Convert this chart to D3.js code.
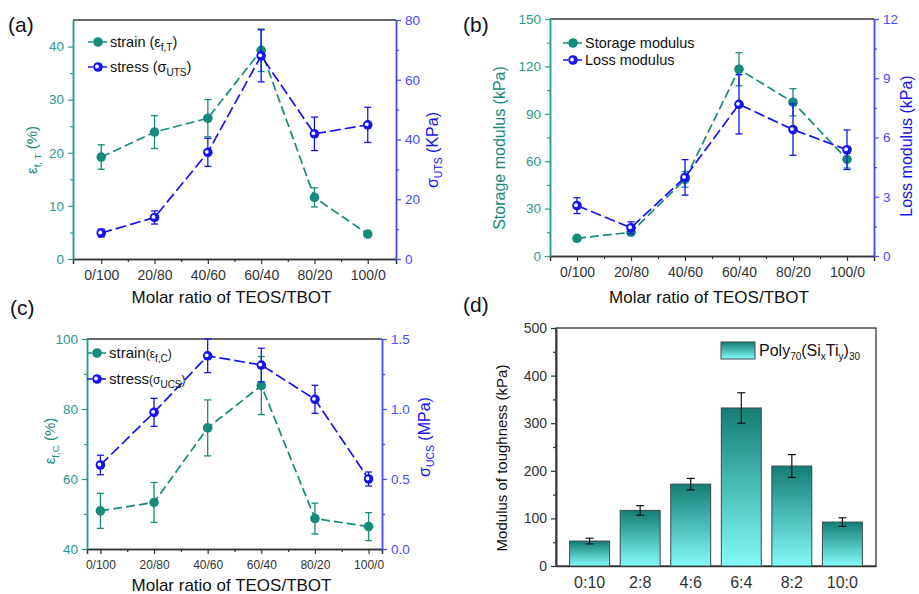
<!DOCTYPE html>
<html>
<head>
<meta charset="utf-8">
<script src="https://cdn.jsdelivr.net/npm/d3@7"></script>
<style>
  body { margin: 0; background: #fff; }
  text { font-family: "Liberation Sans", Arial, sans-serif; }
</style>
</head>
<body>
<div id="chart"></div>
<script>
// data
var ratios = ["0/100", "20/80", "40/60", "60/40", "80/20", "100/0"];

// (a) tensile
var strainT = [19.2, 23.9, 26.5, 39.3, 11.6, 4.7];
var strainTErr = [2.3, 3.1, 3.5, 4.0, 1.8, 0.5];
var stressUTS = [8.7, 13.9, 35.7, 68.0, 41.9, 44.9];
var stressUTSErr = [1.3, 2.2, 4.7, 8.7, 5.6, 5.9];

// (b) rheology
var storageMod = [11.2, 15.0, 48.5, 118.2, 97.3, 61.2];
var storageErr = [1.0, 1.5, 5.0, 10.5, 8.6, 5.5];
var lossMod = [2.55, 1.43, 3.98, 7.68, 6.4, 5.38];
var lossErr = [0.4, 0.3, 0.9, 1.5, 1.3, 1.0];

// (c) compression
var strainC = [50.9, 53.3, 74.6, 86.7, 48.7, 46.4];
var strainCErr = [5.0, 5.7, 8.0, 8.3, 4.4, 4.0];
var stressUCS = [0.60, 0.976, 1.38, 1.314, 1.069, 0.50];
var stressUCSErr = [0.07, 0.10, 0.12, 0.12, 0.10, 0.05];

// (d) toughness
var ratiosD = ["0:10", "2:8", "4:6", "6:4", "8:2", "10:0"];
var toughness = [52.4, 116.8, 172, 332, 210, 92.3];
var toughnessErr = [6, 10, 12, 32, 24, 9];

var teal = "#168a7b", tealAxis = "#2a9a8c";
var blue = "#1414f0", blueAxis = "#4a4aff";
var dark = "#333";

var svg = d3.select("#chart").append("svg")
    .attr("width", 919).attr("height", 594);

var defs = svg.append("defs");
var grad = defs.append("linearGradient").attr("id", "barGrad")
    .attr("x1", 0).attr("y1", 0).attr("x2", 0).attr("y2", 1);
grad.append("stop").attr("offset", "0%").attr("stop-color", "#147d74");
grad.append("stop").attr("offset", "100%").attr("stop-color", "#82fbfb");

function styleAxis(g, color, size) {
  g.select(".domain").attr("stroke", color).attr("stroke-width", 1.5);
  g.selectAll(".tick line").attr("stroke", color).attr("stroke-width", 1.2);
  g.selectAll(".tick text").attr("fill", color).style("font-size", size + "px")
    .style("font-family", "'Liberation Sans', Arial, sans-serif");
}

function marker(g, x, y, kind) {
  if (kind == "teal") {
    g.append("circle").attr("cx", x).attr("cy", y).attr("r", 4.8).attr("fill", teal);
  } else {
    g.append("circle").attr("cx", x).attr("cy", y).attr("r", 4.8).attr("fill", blue);
    g.append("circle").attr("cx", x - 1).attr("cy", y - 0.5).attr("r", 1.9).attr("fill", "#fff");
  }
}

function series(g, x, y, vals, errs, color, kind, dash) {
  var line = d3.line().x(function(d, i){ return x(i); }).y(function(d){ return y(d); });
  g.append("path").datum(vals)
    .attr("d", line).attr("fill", "none")
    .attr("stroke", color).attr("stroke-width", 1.7)
    .attr("stroke-dasharray", dash);
  vals.forEach(function(v, i){
    var top = y(v + errs[i]), bot = y(v - errs[i]), cx = x(i);
    g.append("line").attr("x1", cx).attr("x2", cx).attr("y1", top).attr("y2", bot)
      .attr("stroke", color).attr("stroke-width", 1.3);
    [top, bot].forEach(function(yy){
      g.append("line").attr("x1", cx - 3.5).attr("x2", cx + 3.5).attr("y1", yy).attr("y2", yy)
        .attr("stroke", color).attr("stroke-width", 1.3);
    });
  });
  vals.forEach(function(v, i){ marker(g, x(i), y(v), kind); });
}

function legendRow(g, x, y, kind, color, dash, parts) {
  g.append("line").attr("x1", x - 10).attr("x2", x + 10).attr("y1", y).attr("y2", y)
    .attr("stroke", color).attr("stroke-width", 1.7).attr("stroke-dasharray", dash);
  marker(g, x, y, kind);
  var t = g.append("text").attr("x", x + 12).attr("y", y + 5).attr("fill", "#111")
    .style("font-size", "14.5px");
  parts.forEach(function(p){
    var s = t.append("tspan").text(p.t);
    if (p.sub) s.attr("dy", 4).style("font-size", "10px");
    if (p.back) s.attr("dy", -4);
    if (p.size) s.style("font-size", p.size + "px");
  });
}

function yTitle(x, y, color, parts, size) {
  var t = svg.append("text").attr("transform", "translate(" + x + "," + y + ") rotate(-90)")
    .attr("text-anchor", "middle").attr("fill", color).style("font-size", size + "px");
  parts.forEach(function(p){
    var s = t.append("tspan").text(p.t);
    if (p.sub) s.attr("dy", 4).style("font-size", (size * 0.65) + "px");
    if (p.back) s.attr("dy", -4);
  });
}

function dualPanel(c) {
  var g = svg.append("g");
  var x = d3.scaleLinear().domain([-c.pad, ratios.length - 1 + c.pad]).range([c.x0, c.x1]);
  var yL = d3.scaleLinear().domain(c.left).range([c.y1, c.y0]);
  var yR = d3.scaleLinear().domain(c.right).range([c.y1, c.y0]);

  // frame top
  g.append("line").attr("x1", c.x0).attr("x2", c.x1).attr("y1", c.y0).attr("y2", c.y0)
    .attr("stroke", dark).attr("stroke-width", 1.5);

  var xa = g.append("g").attr("transform", "translate(0," + c.y1 + ")")
    .call(d3.axisBottom(x).tickValues(d3.range(ratios.length))
      .tickFormat(function(i){ return ratios[i]; }).tickSizeOuter(0).tickSize(5).tickPadding(6));
  styleAxis(xa, dark, c.xfont);
  var xm = g.append("g").attr("transform", "translate(0," + c.y1 + ")")
    .call(d3.axisBottom(x).tickValues(d3.range(ratios.length - 1).map(function(i){ return i + 0.5; }))
      .tickFormat("").tickSize(3).tickSizeOuter(0));
  styleAxis(xm, dark, c.xfont);

  var la = g.append("g").attr("transform", "translate(" + c.x0 + ",0)")
    .call(d3.axisLeft(yL).tickValues(c.leftTicks).tickSize(5).tickSizeOuter(0).tickPadding(4)
      .tickFormat(c.leftFmt || null));
  styleAxis(la, tealAxis, 13.5);
  var lm = g.append("g").attr("transform", "translate(" + c.x0 + ",0)")
    .call(d3.axisLeft(yL).tickValues(c.leftMinor).tickSize(3).tickSizeOuter(0).tickFormat(""));
  styleAxis(lm, tealAxis, 13);

  var ra = g.append("g").attr("transform", "translate(" + c.x1 + ",0)")
    .call(d3.axisRight(yR).tickValues(c.rightTicks).tickSize(5).tickSizeOuter(0).tickPadding(4)
      .tickFormat(c.rightFmt || null));
  styleAxis(ra, blueAxis, 13.5);
  var rm = g.append("g").attr("transform", "translate(" + c.x1 + ",0)")
    .call(d3.axisRight(yR).tickValues(c.rightMinor).tickSize(3).tickSizeOuter(0).tickFormat(""));
  styleAxis(rm, blueAxis, 13);

  var plot = g.append("g");
  series(plot, x, yL, c.lv, c.le, teal, "teal", "9,4");
  series(plot, x, yR, c.rv, c.re, blue, "blue", "11,4");

  g.append("text").attr("x", (c.x0 + c.x1) / 2 - 3).attr("y", c.xTitleY)
    .attr("text-anchor", "middle").attr("fill", "#111").style("font-size", "17px")
    .text("Molar ratio of TEOS/TBOT");
  return g;
}

// (a)
var ga = dualPanel({
  x0: 73, x1: 396, y0: 20, y1: 259, pad: 0.53,
  left: [0, 45], leftTicks: [0, 10, 20, 30, 40], leftMinor: [5, 15, 25, 35],
  right: [0, 80], rightTicks: [0, 20, 40, 60, 80], rightMinor: [10, 30, 50, 70],
  lv: strainT, le: strainTErr, rv: stressUTS, re: stressUTSErr,
  xfont: 14, xTitleY: 303
});
legendRow(ga, 98, 42, "teal", teal, "5,2", [{t: "strain (ε"}, {t: "f,T", sub: true}, {t: ")", back: true}]);
legendRow(ga, 98, 67, "blue", blue, "5,2", [{t: "stress (σ"}, {t: "UTS", sub: true}, {t: ")", back: true}]);
yTitle(37, 150, teal, [{t: "ε"}, {t: "f, T", sub: true}, {t: " (%)", back: true}], 15);
yTitle(438, 150, blue, [{t: "σ"}, {t: "UTS", sub: true}, {t: " (KPa)", back: true}], 16);

// (b)
var gb = dualPanel({
  x0: 550, x1: 874, y0: 19, y1: 256, pad: 0.5,
  left: [0, 150], leftTicks: [0, 30, 60, 90, 120, 150], leftMinor: [15, 45, 75, 105, 135],
  right: [0, 12], rightTicks: [0, 3, 6, 9, 12], rightMinor: [1.5, 4.5, 7.5, 10.5],
  lv: storageMod, le: storageErr, rv: lossMod, re: lossErr,
  xfont: 14, xTitleY: 303
});
legendRow(gb, 573, 43, "teal", teal, "5,2", [{t: "Storage modulus"}]);
legendRow(gb, 573, 60, "blue", blue, "5,2", [{t: "Loss modulus"}]);
yTitle(505, 148, teal, [{t: "Storage modulus (kPa)"}], 16);
yTitle(912, 146, blue, [{t: "Loss modulus (kPa)"}], 16);

// (c)
var gc = dualPanel({
  x0: 87, x1: 382, y0: 339, y1: 549, pad: 0.25,
  left: [40, 100], leftTicks: [40, 60, 80, 100], leftMinor: [50, 70, 90],
  right: [0, 1.5], rightTicks: [0, 0.5, 1.0, 1.5], rightMinor: [0.25, 0.75, 1.25],
  rightFmt: d3.format(".1f"),
  lv: strainC, le: strainCErr, rv: stressUCS, re: stressUCSErr,
  xfont: 12, xTitleY: 591
});
legendRow(gc, 97, 353, "teal", teal, "5,2", [{t: "strain", size: 15}, {t: "(ε", size: 12}, {t: "f,C", sub: true}, {t: ")", back: true, size: 12}]);
legendRow(gc, 97, 379, "blue", blue, "5,2", [{t: " stress", size: 15}, {t: "(σ", size: 12}, {t: "UCS", sub: true}, {t: ")", back: true, size: 12}]);
yTitle(55, 441, teal, [{t: "ε"}, {t: "f,C", sub: true}, {t: " (%)", back: true}], 15);
yTitle(430, 437, blue, [{t: "σ"}, {t: "UCS", sub: true}, {t: " (MPa)", back: true}], 16);

// (d)
var gd = svg.append("g");
var xd = d3.scaleBand().domain(ratiosD).range([556, 876]).paddingInner(0.21).paddingOuter(0.27);
var yd = d3.scaleLinear().domain([0, 500]).range([566, 328]);
gd.append("rect").attr("x", 556).attr("y", 328).attr("width", 320).attr("height", 238)
  .attr("fill", "none").attr("stroke", dark).attr("stroke-width", 1.3);
var da = gd.append("g").attr("transform", "translate(556,0)")
  .call(d3.axisLeft(yd).tickValues([0, 100, 200, 300, 400, 500]).tickSize(5).tickSizeOuter(0).tickPadding(4));
styleAxis(da, dark, 14);
var dm = gd.append("g").attr("transform", "translate(556,0)")
  .call(d3.axisLeft(yd).tickValues([50, 150, 250, 350, 450]).tickSize(3).tickSizeOuter(0).tickFormat(""));
styleAxis(dm, dark, 14);
var dx = gd.append("g").attr("transform", "translate(0,566)")
  .call(d3.axisBottom(xd).tickSize(0).tickPadding(11));
styleAxis(dx, dark, 16);

gd.selectAll("rect.bar").data(toughness).enter().append("rect")
  .attr("class", "bar")
  .attr("x", function(d, i){ return xd(ratiosD[i]); })
  .attr("width", xd.bandwidth())
  .attr("y", function(d){ return yd(d); })
  .attr("height", function(d){ return yd(0) - yd(d); })
  .attr("fill", "url(#barGrad)").attr("stroke", "#3a4a4a").attr("stroke-width", 1);

toughness.forEach(function(v, i){
  var cx = xd(ratiosD[i]) + xd.bandwidth() / 2;
  var t = yd(v + toughnessErr[i]), b = yd(v - toughnessErr[i]);
  gd.append("line").attr("x1", cx).attr("x2", cx).attr("y1", t).attr("y2", b).attr("stroke", "#111").attr("stroke-width", 1.2);
  [t, b].forEach(function(yy){
    gd.append("line").attr("x1", cx - 4).attr("x2", cx + 4).attr("y1", yy).attr("y2", yy).attr("stroke", "#111").attr("stroke-width", 1.2);
  });
});

gd.append("rect").attr("x", 721).attr("y", 342).attr("width", 34).attr("height", 17)
  .attr("fill", "url(#barGrad)").attr("stroke", "#3a4a4a").attr("stroke-width", 1);
var lt = gd.append("text").attr("x", 759).attr("y", 356).attr("fill", "#111").style("font-size", "16px");
lt.append("tspan").text("Poly");
lt.append("tspan").text("70").attr("dy", 4).style("font-size", "10px");
lt.append("tspan").text("(Si").attr("dy", -4);
lt.append("tspan").text("x").attr("dy", 4).style("font-size", "10px");
lt.append("tspan").text("Ti").attr("dy", -4);
lt.append("tspan").text("y").attr("dy", 4).style("font-size", "10px");
lt.append("tspan").text(")").attr("dy", -4);
lt.append("tspan").text("30").attr("dy", 4).style("font-size", "10px");
yTitle(507, 458, "#111", [{t: "Modulus of toughness (kPa)"}], 15);

// panel letters
[["(a)", 8, 32], ["(b)", 463, 32], ["(c)", 10, 315], ["(d)", 463, 312]].forEach(function(p){
  svg.append("text").attr("x", p[1]).attr("y", p[2]).attr("fill", "#111")
    .style("font-size", "21px").text(p[0]);
});
</script>
</body>
</html>
